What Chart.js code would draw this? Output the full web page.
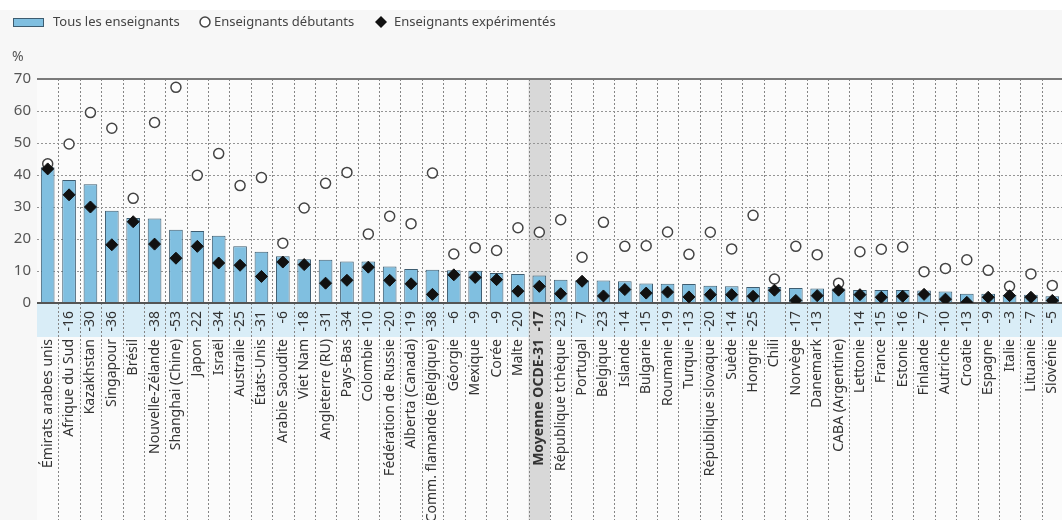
<!DOCTYPE html>
<html lang="fr">
<head>
<meta charset="utf-8">
<title>Enseignants</title>
<script src="https://cdn.jsdelivr.net/npm/chart.js@4.4.1/dist/chart.umd.min.js"></script>
<style>
  html, body { margin: 0; padding: 0; background: #fff; overflow: hidden; }
  #wrap { width: 1070px; height: 520px; }
</style>
</head>
<body>
<div id="wrap"><canvas id="chart"></canvas></div>
<script>
const categories = [
    'Émirats arabes unis', 'Afrique du Sud', 'Kazakhstan', 'Singapour', 'Brésil', 'Nouvelle-Zélande',
    'Shanghai (Chine)', 'Japon', 'Israël', 'Australie', 'États-Unis', 'Arabie Saoudite', 'Viet Nam',
    'Angleterre (RU)', 'Pays-Bas', 'Colombie', 'Fédération de Russie', 'Alberta (Canada)',
    'Comm. flamande (Belgique)', 'Géorgie', 'Mexique', 'Corée', 'Malte', 'Moyenne OCDE-31',
    'République tchèque', 'Portugal', 'Belgique', 'Islande', 'Bulgarie', 'Roumanie', 'Turquie',
    'République slovaque', 'Suède', 'Hongrie', 'Chili', 'Norvège', 'Danemark', 'CABA (Argentine)',
    'Lettonie', 'France', 'Estonie', 'Finlande', 'Autriche', 'Croatie', 'Espagne', 'Italie',
    'Lituanie', 'Slovénie'
];
const differences = [
    '', '-16', '-30', '-36', '', '-38', '-53', '-22', '-34', '-25', '-31', '-6', '-18', '-31', '-34', '-10',
    '-20', '-19', '-38', '-6', '-9', '-9', '-20', '-17', '-23', '-7', '-23', '-14', '-15', '-19', '-13',
    '-20', '-14', '-25', '', '-17', '-13', '', '-14', '-15', '-16', '-7', '-10', '-13', '-9', '-3', '-7', '-5'
];
const allTeachers = [
    42.4, 38.4, 37.1, 28.8, 26.6, 26.4, 22.9, 22.5, 21.0, 17.7, 16.0, 14.6, 13.7, 13.5, 13.0, 13.0,
    11.4, 10.6, 10.4, 10.2, 10.1, 9.4, 9.1, 8.6, 7.3, 7.1, 7.0, 6.8, 6.1, 6.0, 5.9,
    5.4, 5.2, 5.0, 5.0, 4.7, 4.5, 4.5, 4.1, 4.1, 4.1, 3.9, 3.6, 2.9, 2.9, 2.6, 2.6, 2.1
];
const noviceTeachers = [
    43.5, 49.7, 59.5, 54.6, 32.7, 56.4, 67.4, 39.9, 46.7, 36.7, 39.2, 18.7, 29.7, 37.4, 40.8, 21.6,
    27.1, 24.8, 40.6, 15.3, 17.3, 16.4, 23.5, 22.1, 26.0, 14.3, 25.2, 17.7, 17.9, 22.2, 15.2,
    22.1, 16.9, 27.4, 7.5, 17.7, 15.1, 6.2, 16.0, 16.8, 17.5, 9.8, 10.8, 13.5, 10.2, 5.2, 9.1, 5.5
];
const experiencedTeachers = [
    41.9, 33.8, 30.0, 18.2, 25.4, 18.4, 14.0, 17.7, 12.5, 11.8, 8.3, 12.8, 12.0, 6.2, 7.1, 11.2,
    7.1, 6.0, 2.7, 8.8, 8.0, 7.3, 3.7, 5.2, 2.9, 6.8, 2.2, 4.2, 3.1, 3.4, 1.9,
    2.6, 2.6, 2.1, 4.0, 0.8, 2.3, 4.0, 2.6, 1.8, 2.1, 2.7, 1.2, 0.2, 1.8, 2.3, 1.8, 0.8
];
const highlighted = 'Moyenne OCDE-31';

const FONT = "'Noto Sans', 'Open Sans', sans-serif";
const BAR_FILL = '#80bfe0';
const BAR_BORDER = '#3d5c70';

// band, highlight column, category labels and legend
const decor = {
    id: 'decor',
    beforeDraw(chart) {
        const { ctx, chartArea: a, scales: { x } } = chart;
        const step = x.getPixelForValue(1) - x.getPixelForValue(0);
        ctx.save();
        ctx.fillStyle = '#f7f7f7';
        ctx.fillRect(0, 0, chart.width, chart.height);
        ctx.fillStyle = '#ffffff';
        ctx.fillRect(0, 0, chart.width, 10);
        ctx.fillStyle = '#fbfbfb';
        ctx.fillRect(a.left, a.top, a.right - a.left, chart.height - a.top);

        ctx.fillStyle = '#d9edf7';
        ctx.fillRect(a.left, a.bottom, a.right - a.left, 34);

        const hi = categories.indexOf(highlighted);
        ctx.fillStyle = '#d8d8d8';
        ctx.fillRect(x.getPixelForValue(hi) - step / 2, a.top, step, chart.height - a.top);

        ctx.strokeStyle = '#858585';
        ctx.lineWidth = 1;
        ctx.setLineDash([2, 2]);
        for (let i = 1; i < categories.length; i++) {
            const px = Math.round(x.getPixelForValue(i) - step / 2) + 0.5;
            ctx.beginPath();
            ctx.moveTo(px, a.top);
            ctx.lineTo(px, chart.height);
            ctx.stroke();
        }
        ctx.restore();
    },
    afterDraw(chart) {
        const { ctx, chartArea: a, scales: { x } } = chart;
        ctx.save();
        ctx.fillStyle = '#333';
        ctx.textBaseline = 'middle';
        ctx.textAlign = 'right';
        categories.forEach((c, i) => {
            const px = x.getPixelForValue(i);
            const bold = c === highlighted ? 'bold ' : '';
            ctx.font = bold + '14px ' + FONT;
            ctx.save();
            ctx.translate(px, a.bottom + 8);
            ctx.rotate(-Math.PI / 2);
            ctx.fillText(differences[i], 0, 0);
            ctx.restore();
            ctx.save();
            ctx.translate(px, a.bottom + 36);
            ctx.rotate(-Math.PI / 2);
            ctx.fillText(c, 0, 0);
            ctx.restore();
        });

        // legend
        ctx.textAlign = 'left';
        ctx.font = '13px ' + FONT;
        ctx.fillStyle = BAR_FILL;
        ctx.fillRect(13.5, 18.5, 30, 8);
        ctx.strokeStyle = BAR_BORDER;
        ctx.lineWidth = 1;
        ctx.strokeRect(13.5, 18.5, 30, 8);
        ctx.fillStyle = '#444';
        ctx.fillText('Tous les enseignants', 53, 22);

        ctx.beginPath();
        ctx.arc(205, 22, 5, 0, Math.PI * 2);
        ctx.fillStyle = '#fff';
        ctx.fill();
        ctx.strokeStyle = '#444';
        ctx.lineWidth = 1.5;
        ctx.stroke();
        ctx.fillStyle = '#444';
        ctx.fillText('Enseignants débutants', 214, 22);

        ctx.beginPath();
        ctx.moveTo(381, 16);
        ctx.lineTo(387, 22);
        ctx.lineTo(381, 28);
        ctx.lineTo(375, 22);
        ctx.closePath();
        ctx.fillStyle = '#111';
        ctx.fill();
        ctx.fillStyle = '#444';
        ctx.fillText('Enseignants expérimentés', 394, 22);

        ctx.font = '14px ' + FONT;
        ctx.fillStyle = '#555';
        ctx.fillText('%', 12, 57);
        ctx.restore();
    }
};

new Chart(document.getElementById('chart'), {
    type: 'bar',
    data: {
        labels: categories,
        datasets: [
            {
                label: 'Enseignants expérimentés',
                type: 'line',
                data: experiencedTeachers,
                showLine: false,
                pointStyle: 'rectRot',
                pointRadius: 6,
                pointBackgroundColor: '#111',
                pointBorderColor: '#111',
                pointBorderWidth: 1,
                order: 1
            },
            {
                label: 'Enseignants débutants',
                type: 'line',
                data: noviceTeachers,
                showLine: false,
                pointStyle: 'circle',
                pointRadius: 5,
                pointBackgroundColor: '#fff',
                pointBorderColor: '#444',
                pointBorderWidth: 1.5,
                order: 2
            },
            {
                label: 'Tous les enseignants',
                data: allTeachers,
                backgroundColor: BAR_FILL,
                borderColor: BAR_BORDER,
                borderWidth: 1,
                barPercentage: 0.64,
                categoryPercentage: 1,
                order: 3
            }
        ]
    },
    options: {
        responsive: true,
        maintainAspectRatio: false,
        animation: false,
        layout: { padding: { top: 79, right: 2, bottom: 0, left: 0 } },
        plugins: {
            legend: { display: false },
            tooltip: { enabled: false }
        },
        scales: {
            x: {
                ticks: { display: false },
                grid: { display: false },
                border: { display: false },
                afterFit: s => { s.height = 217; }
            },
            y: {
                min: 0,
                max: 70,
                ticks: {
                    stepSize: 10,
                    color: '#555',
                    font: { family: FONT, size: 15 },
                    padding: 6
                },
                grid: {
                    drawTicks: false,
                    color: c => c.tick.value === 0 ? '#555' : c.tick.value === 70 ? '#7a7a7a' : '#959595',
                    lineWidth: c => (c.tick.value === 0 || c.tick.value === 70) ? 2 : 1
                },
                border: {
                    display: false,
                    dash: c => (c.tick && c.tick.value !== 0 && c.tick.value !== 70) ? [2, 2] : []
                },
                afterFit: s => { s.width = 37; }
            }
        }
    },
    plugins: [decor]
});
</script>
</body>
</html>
